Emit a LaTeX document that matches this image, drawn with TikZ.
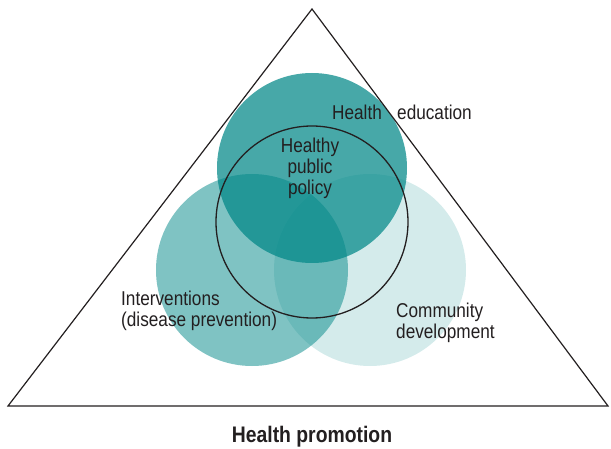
\documentclass[tikz,border=0pt]{standalone}
\usepackage{fontspec}
\setmainfont{Liberation Sans}[FakeStretch=0.86]
\definecolor{tealbase}{RGB}{0,135,135}
\definecolor{textgray}{RGB}{35,31,32}

\begin{document}
\begin{tikzpicture}[x=1pt,y=-1pt,
    lbl/.style={text=textgray,font=\fontsize{20}{21}\selectfont,inner sep=0pt,align=center}]
    \useasboundingbox (0,0) rectangle (611,449);
    % the three circles
    \fill[tealbase,fill opacity=0.17] (370,270) circle (96);
    \fill[tealbase,fill opacity=0.5] (252,270) circle (96);
    \fill[tealbase,fill opacity=0.72] (312,168) circle (95);
    \draw[line width=1.3pt,textgray] (312,222) circle (96);
    % the triangle
    \draw[line width=1.2pt,textgray] (312,9)--(608,406)--(8,406)--cycle;
    % labels
    \node[lbl] (health) at (357,112) {Health};
    \node[lbl,anchor=west] (education) at (397,112) {education};
    \node[lbl] (policy) at (310,168) {Healthy\\public\\policy};
    \node[lbl,align=left,anchor=west] (interventions) at (121,311) {Interventions\\(disease prevention)};
    \node[lbl,align=left,anchor=west] (community) at (396,323) {Community\\development};
    \node[lbl,font=\fontsize{22.5}{24}\selectfont\bfseries] (promotion) at (312,437) {Health promotion};
\end{tikzpicture}
\end{document}
